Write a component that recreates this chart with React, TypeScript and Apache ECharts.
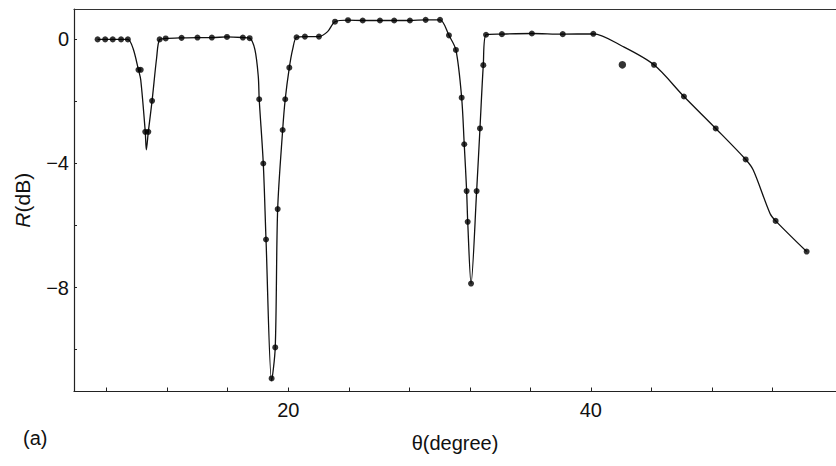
import React, { useEffect, useRef } from "react";
import * as echarts from "echarts";

// Measured points (dots)
const dotTheta = [7.4, 7.9, 8.4, 8.95, 9.4, 10.1, 10.25, 10.55, 10.75, 11.0, 11.5, 11.9, 12.95, 14.0, 14.95, 15.95, 17.0, 17.45, 18.08, 18.35, 18.53, 18.9, 19.14, 19.3, 19.63, 19.8, 20.07, 20.55, 21.1, 22.03, 23.09, 23.95, 24.92, 26.06, 27.0, 28.04, 29.08, 30.03, 30.62, 31.08, 31.46, 31.63, 31.79, 31.86, 32.08, 32.45, 32.67, 32.89, 33.07, 34.12, 36.1, 38.14, 40.16, 44.17, 46.15, 48.25, 50.23, 52.21, 54.26];
const dotR = [0, 0, 0, 0, 0, -0.98, -0.98, -2.98, -2.98, -1.98, 0.0, 0.03, 0.05, 0.06, 0.06, 0.08, 0.06, 0.04, -1.93, -4.0, -6.45, -10.93, -9.93, -5.47, -2.92, -1.93, -0.91, 0.07, 0.09, 0.09, 0.57, 0.62, 0.61, 0.61, 0.61, 0.61, 0.63, 0.63, 0.13, -0.34, -1.88, -3.38, -4.89, -5.88, -7.87, -4.89, -2.87, -0.83, 0.15, 0.17, 0.19, 0.17, 0.18, -0.82, -1.84, -2.87, -3.87, -5.85, -6.84];

// Outlying measured point (drawn larger)
const outlierTheta = [42.08];
const outlierR = [-0.82];

// Theoretical curve
const curveTheta = [7.4, 7.9, 8.4, 8.95, 9.4, 9.75, 10.1, 10.25, 10.55, 10.62, 10.75, 11.0, 11.3, 11.5, 11.9, 12.95, 14.0, 14.95, 15.95, 17.0, 17.45, 17.8, 18.02, 18.08, 18.35, 18.53, 18.9, 19.14, 19.3, 19.63, 19.8, 20.07, 20.3, 20.55, 21.1, 22.03, 22.6, 23.09, 23.95, 24.92, 26.06, 27.0, 28.04, 29.08, 30.03, 30.62, 31.08, 31.46, 31.63, 31.79, 31.86, 32.08, 32.45, 32.67, 32.89, 33.07, 34.12, 36.1, 38.14, 40.16, 42.08, 44.17, 46.15, 48.25, 50.23, 50.73, 51.84, 52.21, 54.26];
const curveR = [0, 0, 0, 0, 0, -0.3, -0.98, -1.3, -2.98, -3.56, -2.98, -1.98, -0.6, 0.0, 0.03, 0.05, 0.06, 0.06, 0.08, 0.06, 0.04, -0.34, -1.2, -1.93, -4.0, -6.45, -11.0, -9.93, -5.47, -2.92, -1.93, -0.91, -0.3, 0.07, 0.09, 0.09, 0.25, 0.57, 0.62, 0.61, 0.61, 0.61, 0.61, 0.63, 0.63, 0.13, -0.34, -1.88, -3.38, -4.89, -5.88, -7.87, -4.89, -2.87, -0.83, 0.15, 0.17, 0.19, 0.17, 0.18, -0.22, -0.82, -1.84, -2.87, -3.87, -4.21, -5.61, -5.85, -6.84];

const xTicks = [8, 12, 16, 20, 24, 28, 32, 36, 40, 44, 48, 52];
const xLabels = [20, 40];
const yTicks = [0, -2, -4, -6, -8, -10];
const yLabels = [0, -4, -8];

const FONT = "'Liberation Sans', Arial, Helvetica, sans-serif";

export default function App() {
  const ref = useRef<HTMLDivElement>(null);
  useEffect(() => {
    if (!ref.current) return;
    const chart = echarts.init(ref.current, null, { renderer: "svg" });
    const fmt = (v: number) => (v < 0 ? "\u2212" + Math.abs(v) : String(v));
    chart.setOption({
      animation: false,
      backgroundColor: "#ffffff",
      grid: { left: 74, right: 0, top: 9, bottom: 74.5 },
      xAxis: [
        {
          type: "value",
          position: "bottom",
          min: 5.84,
          max: 56.2,
          name: "\u03b8(degree)",
          nameLocation: "middle",
          nameGap: 41,
          nameTextStyle: { fontFamily: FONT, fontSize: 20, color: "#111" },
          axisLine: { show: true, onZero: false, lineStyle: { color: "#222", width: 1.2 } },
          axisTick: { show: true, inside: true, length: 4, customValues: xTicks, lineStyle: { color: "#222" } },
          axisLabel: { show: true, customValues: xLabels, fontFamily: FONT, fontSize: 20, color: "#111", margin: 8 },
          splitLine: { show: false },
        },
        {
          type: "value",
          position: "top",
          min: 5.84,
          max: 56.2,
          axisLine: { show: true, onZero: false, lineStyle: { color: "#333", width: 1.2 } },
          axisTick: { show: false },
          axisLabel: { show: false },
          splitLine: { show: false },
        },
      ],
      yAxis: {
        type: "value",
        position: "left",
        min: -11.35,
        max: 0.98,
        name: "{i|R}(dB)",
        nameLocation: "middle",
        nameRotate: 90,
        nameGap: 41,
        nameTextStyle: {
          fontFamily: FONT,
          fontSize: 21,
          color: "#111",
          rich: { i: { fontStyle: "italic", fontFamily: FONT, fontSize: 21, color: "#111" } },
        },
        axisLine: { show: true, onZero: false, lineStyle: { color: "#222", width: 1.2 } },
        axisTick: { show: true, inside: true, length: 3, customValues: yTicks, lineStyle: { color: "#222" } },
        axisLabel: { show: true, customValues: yLabels, formatter: fmt, fontFamily: FONT, fontSize: 20, color: "#111", margin: 5 },
        splitLine: { show: false },
      },
      graphic: [
        {
          type: "text",
          left: 23,
          top: 428,
          style: { text: "(a)", font: `20px ${FONT}`, fill: "#111" },
        },
      ],
      series: [
        {
          type: "line",
          data: curveTheta.map((t, i) => [t, curveR[i]]),
          smooth: 0.3,
          showSymbol: false,
          lineStyle: { color: "#111", width: 1.3 },
          z: 2,
        },
        {
          type: "scatter",
          data: dotTheta.map((t, i) => [t, dotR[i]]),
          symbol: "circle",
          symbolSize: 6,
          itemStyle: { color: "#000" },
          z: 3,
        },
        {
          type: "scatter",
          data: outlierTheta.map((t, i) => [t, outlierR[i]]),
          symbol: "circle",
          symbolSize: 7.5,
          itemStyle: { color: "#000" },
          z: 3,
        },
      ],
    });
    return () => chart.dispose();
  }, []);
  return <div ref={ref} style={{ width: 836, height: 466, position: "absolute", left: 0, top: 0 }} />;
}
